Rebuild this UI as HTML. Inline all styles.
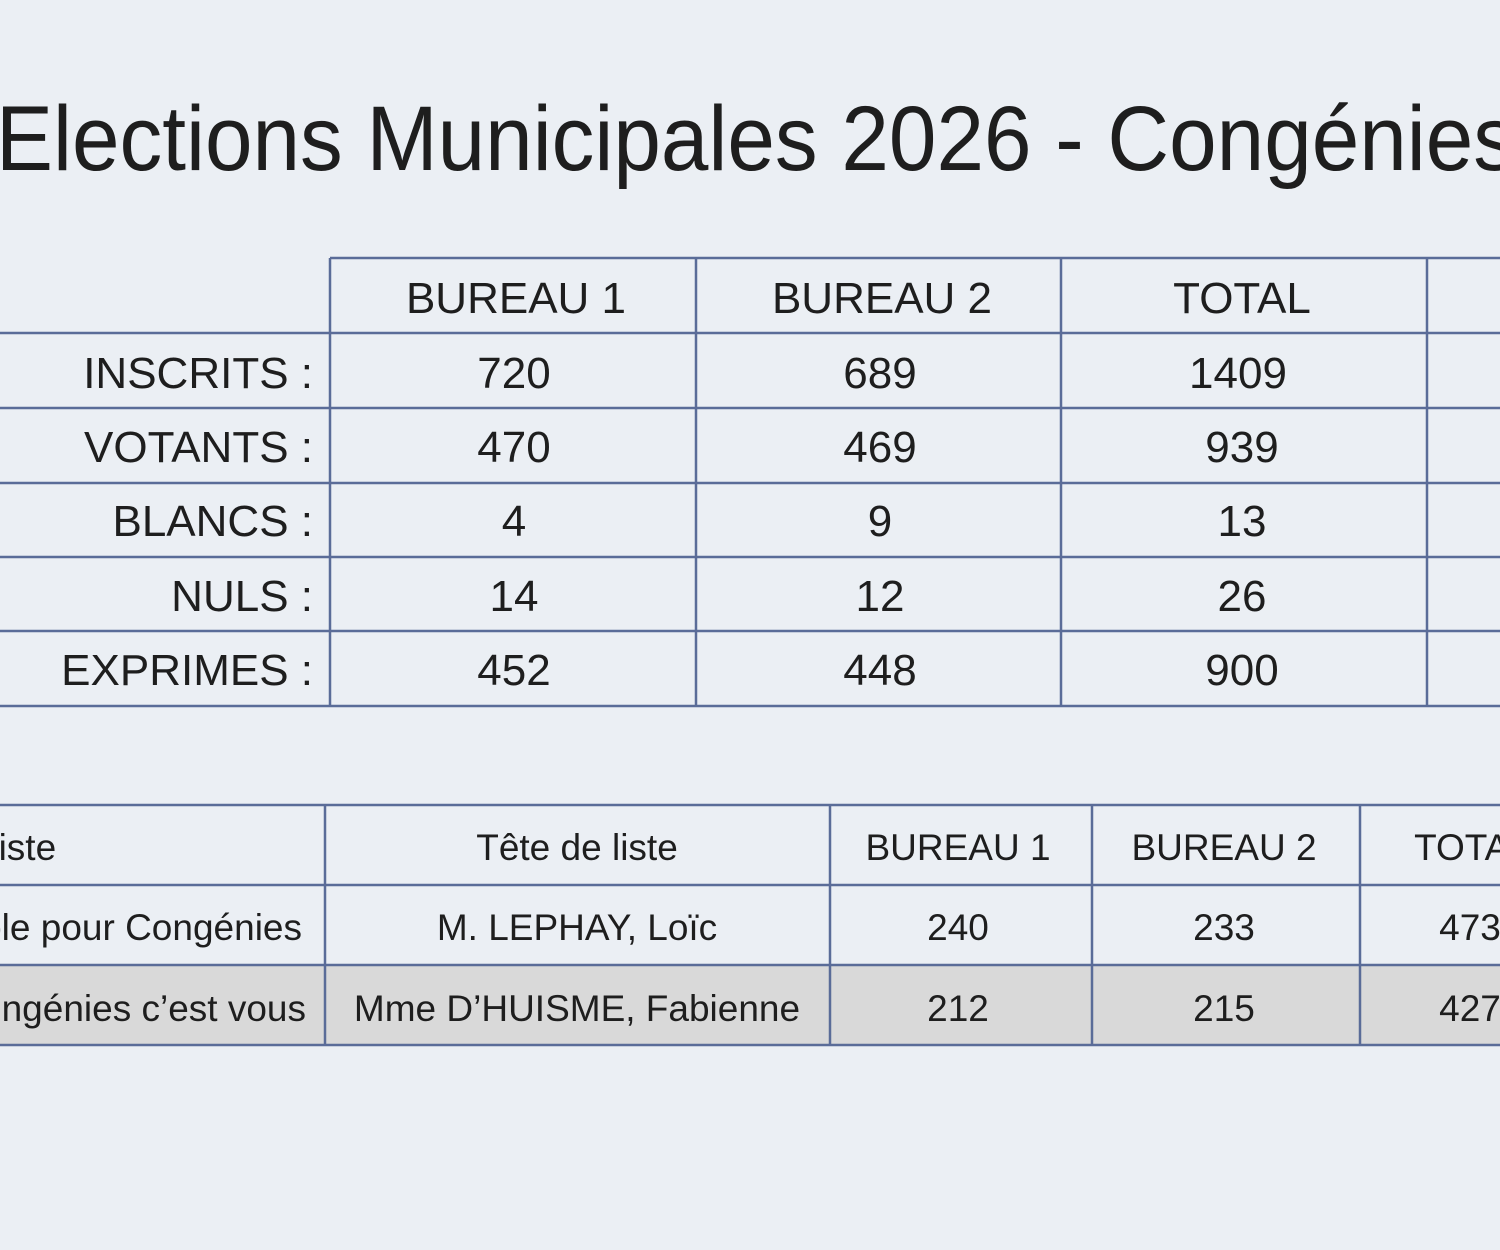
<!DOCTYPE html>
<html><head><meta charset="utf-8"><style>
html,body{margin:0;padding:0;background:#ebeff4;}
svg{display:block}
text{font-family:"Liberation Sans",sans-serif;fill:#1e1e1e}
</style></head><body>
<svg width="1500" height="1250" viewBox="0 0 1500 1250" xmlns="http://www.w3.org/2000/svg">
<rect width="1500" height="1250" fill="#ebeff4"/>
<text x="-4" y="170" font-size="92" textLength="1520" lengthAdjust="spacingAndGlyphs" fill="#111">Elections Municipales 2026 - Congénies</text>
<g stroke="#5a6c98" stroke-width="2.5">
<line x1="330" y1="258" x2="1500" y2="258"/>
<line x1="0" y1="333" x2="1500" y2="333"/>
<line x1="0" y1="408" x2="1500" y2="408"/>
<line x1="0" y1="483" x2="1500" y2="483"/>
<line x1="0" y1="557" x2="1500" y2="557"/>
<line x1="0" y1="631" x2="1500" y2="631"/>
<line x1="0" y1="706" x2="1500" y2="706"/>
<line x1="330" y1="258" x2="330" y2="706"/>
<line x1="696" y1="258" x2="696" y2="706"/>
<line x1="1061" y1="258" x2="1061" y2="706"/>
<line x1="1427" y1="258" x2="1427" y2="706"/>
</g>
<g font-size="44" text-anchor="middle">
<text x="516" y="313">BUREAU 1</text><text x="882" y="313">BUREAU 2</text><text x="1242" y="313">TOTAL</text>
<text x="514" y="388">720</text><text x="880" y="388">689</text><text x="1238" y="388">1409</text>
<text x="514" y="462">470</text><text x="880" y="462">469</text><text x="1242" y="462">939</text>
<text x="514" y="536">4</text><text x="880" y="536">9</text><text x="1242" y="536">13</text>
<text x="514" y="611">14</text><text x="880" y="611">12</text><text x="1242" y="611">26</text>
<text x="514" y="685">452</text><text x="880" y="685">448</text><text x="1242" y="685">900</text>
</g>
<g font-size="44" text-anchor="end">
<text x="313" y="388">INSCRITS :</text>
<text x="313" y="462">VOTANTS :</text>
<text x="313" y="536">BLANCS :</text>
<text x="313" y="611">NULS :</text>
<text x="313" y="685">EXPRIMES :</text>
</g>
<rect x="0" y="965" width="1500" height="80" fill="#d9d9d9"/>
<g stroke="#5a6c98" stroke-width="2.5">
<line x1="0" y1="805" x2="1500" y2="805"/>
<line x1="0" y1="885" x2="1500" y2="885"/>
<line x1="0" y1="965" x2="1500" y2="965"/>
<line x1="0" y1="1045" x2="1500" y2="1045"/>
<line x1="325" y1="805" x2="325" y2="1045"/>
<line x1="830" y1="805" x2="830" y2="1045"/>
<line x1="1092" y1="805" x2="1092" y2="1045"/>
<line x1="1360" y1="805" x2="1360" y2="1045"/>
</g>
<g font-size="37">
<text x="-22" y="860">Liste</text>
<text x="302" y="940" text-anchor="end">Ensemble pour Congénies</text>
<text x="306" y="1021" text-anchor="end">Congénies c’est vous</text>
</g>
<g font-size="37" text-anchor="middle">
<text x="577" y="860">Tête de liste</text>
<text x="577" y="940">M. LEPHAY, Loïc</text>
<text x="577" y="1021">Mme D’HUISME, Fabienne</text>
<text x="958" y="860">BUREAU 1</text><text x="958" y="940">240</text><text x="958" y="1021">212</text>
<text x="1224" y="860">BUREAU 2</text><text x="1224" y="940">233</text><text x="1224" y="1021">215</text>
<text x="1472" y="860">TOTAL</text><text x="1470" y="940">473</text><text x="1470" y="1021">427</text>
</g>
</svg>
</body></html>
